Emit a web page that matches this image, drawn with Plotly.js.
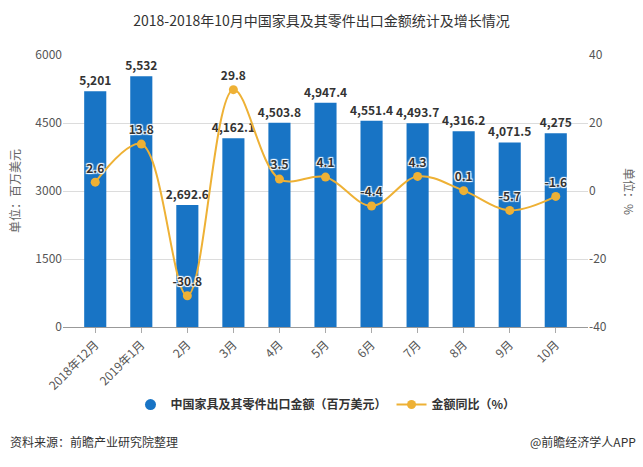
<!DOCTYPE html>
<html><head><meta charset="utf-8">
<script src="https://cdn.plot.ly/plotly-3.0.1.min.js"></script>
<style>html,body{margin:0;padding:0;background:#fff;}#chart{width:643px;height:467px;}</style>
</head><body><div id="chart"></div>
<script>
const categories = ['2018年12月','2019年1月','2月','3月','4月','5月','6月','7月','8月','9月','10月'];
const exportValues = [5201, 5532, 2692.6, 4162.1, 4503.8, 4947.4, 4551.4, 4493.7, 4316.2, 4071.5, 4275];
const growthRates = [2.6, 13.8, -30.8, 29.8, 3.5, 4.1, -4.4, 4.3, 0.1, -5.7, -1.6];
const barName = '中国家具及其零件出口金额（百万美元）';
const lineName = '金额同比（%）';
const leftTicks = [0, 1500, 3000, 4500, 6000];
const rightTicks = [-40, -20, 0, 20, 40];

const FONT = '"Noto Sans CJK SC", "Microsoft YaHei", sans-serif';
const BLUE = '#1874C5';
const ORANGE = '#EEB135';
const halo = '1px 1px 1px #fff, -1px -1px 1px #fff, 1px -1px 1px #fff, -1px 1px 1px #fff';

const traces = [
  {
    type: 'bar', x: categories, y: exportValues, name: barName, showlegend: false,
    marker: {color: BLUE}, width: 0.48,
    text: exportValues.map(v => v.toLocaleString('en-US', {maximumFractionDigits: 1})),
    textposition: 'outside', cliponaxis: false, constraintext: 'none', textangle: 0,
    textfont: {family: FONT, size: 12, color: '#333', weight: 'bold'},
    hoverinfo: 'skip'
  },
  {
    type: 'scatter', mode: 'markers', x: [null], y: [null], name: barName,
    marker: {color: BLUE, size: 11, symbol: 'circle'}, hoverinfo: 'skip'
  },
  {
    type: 'scatter', mode: 'lines+markers+text', x: categories, y: growthRates, yaxis: 'y2',
    name: lineName, line: {color: ORANGE, width: 2, shape: 'spline', smoothing: 1},
    marker: {color: ORANGE, size: 9},
    text: growthRates.map(v => String(v)), textposition: 'top center', cliponaxis: false,
    textfont: {family: FONT, size: 12, color: '#333', weight: 'bold', shadow: halo},
    hoverinfo: 'skip'
  }
];

const layout = {
  width: 643, height: 467,
  margin: {l: 63, r: 55, t: 55, b: 140},
  paper_bgcolor: '#fff', plot_bgcolor: '#fff',
  font: {family: FONT, size: 12, color: '#555'},
  title: {text: '2018-2018年10月中国家具及其零件出口金额统计及增长情况', x: 0.5, xanchor: 'center', y: 0.955, yanchor: 'middle',
          font: {family: FONT, size: 14, color: '#333'}},
  bargap: 0.5,
  xaxis: {
    type: 'category', range: [-0.7, 10.7], tickangle: -45,
    tickfont: {family: FONT, size: 12, color: '#555'},
    ticks: 'outside', ticklen: 5, tickcolor: '#aaa',
    showline: true, linecolor: '#999', linewidth: 1, showgrid: false, zeroline: false
  },
  yaxis: {
    range: [0, 6000], tickvals: leftTicks, ticktext: leftTicks.map(String),
    tickfont: {family: FONT, size: 12, color: '#555'},
    showgrid: true, gridcolor: '#dcdcdc', zeroline: false, showline: false,
    ticks: '', ticklen: 0,
    title: {text: '单位：百万美元', font: {family: FONT, size: 12, color: '#666'}, standoff: 12}
  },
  yaxis2: {
    range: [-40, 40], tickvals: rightTicks, ticktext: rightTicks.map(String),
    overlaying: 'y', side: 'right',
    tickfont: {family: FONT, size: 12, color: '#555'},
    showgrid: false, zeroline: false, showline: false
  },
  legend: {
    orientation: 'h', x: 0.5, xanchor: 'center', y: -0.285, yanchor: 'middle',
    font: {family: FONT, size: 12, color: '#333', weight: 'bold'},
    traceorder: 'normal', itemwidth: 30
  },
  annotations: [
    {text: '单位：%', xref: 'paper', yref: 'paper', x: 1.08, xanchor: 'center', y: 0.5, showarrow: false, textangle: 90,
     font: {family: FONT, size: 12, color: '#666'}},
    {text: '资料来源：前瞻产业研究院整理', xref: 'paper', yref: 'paper', x: -0.105, xanchor: 'left', y: -0.42, yanchor: 'middle', showarrow: false,
     font: {family: FONT, size: 12, color: '#333'}},
    {text: '@前瞻经济学人APP', xref: 'paper', yref: 'paper', x: 1.095, xanchor: 'right', y: -0.42, yanchor: 'middle', showarrow: false,
     font: {family: FONT, size: 12, color: '#333'}}
  ]
};

Plotly.newPlot('chart', traces, layout, {displayModeBar: false, staticPlot: true});
</script></body></html>
